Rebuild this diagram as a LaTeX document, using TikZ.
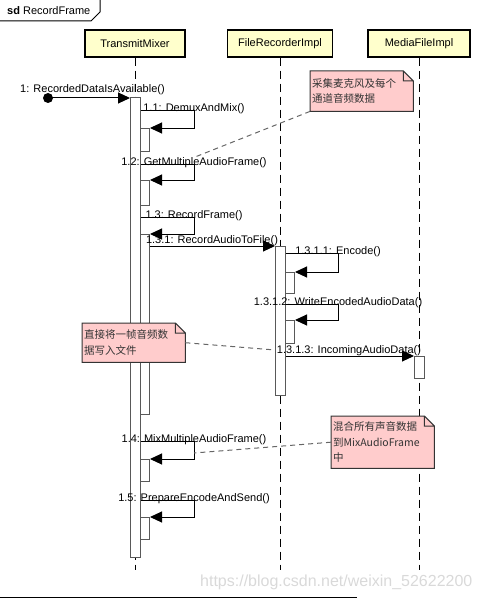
\documentclass[tikz,border=0pt]{standalone}
\usepackage{fontspec}
\setmainfont{Liberation Sans}
\newfontfamily\cjk{Noto Sans CJK SC}
\usetikzlibrary{arrows.meta}

\definecolor{kopfgelb}{HTML}{FFFFCC}
\definecolor{notizrot}{HTML}{FFCCCC}

\tikzset{
  beschr/.style={font=\fontsize{11}{13}\selectfont, inner sep=0pt},
  kopf/.style={draw=black, line width=1.3pt, fill=kopfgelb, minimum height=27pt, inner sep=0pt, font=\fontsize{11}{13}\selectfont},
  lebenslinie/.style={line width=1pt, dash pattern=on 8pt off 5pt},
  akt/.style={draw=black!65, fill=white, line width=1pt, minimum width=10pt, inner sep=0pt, anchor=north west},
  nachricht/.style={line width=1pt, -{Triangle[length=12pt,width=11pt]}},
  startpunkt/.style={circle, fill=black, minimum size=10pt, inner sep=0pt},
  notiz/.style={fill=notizrot, anchor=north west, inner xsep=2pt, inner ysep=2pt, text width=99pt, align=left, text=black!80, font=\cjk\fontsize{10.5}{15.5}\selectfont},
  notizrand/.style={draw=black!80, line width=1pt},
  anmerkung/.style={draw=black!60, line width=1pt, dash pattern=on 5pt off 4pt},
  rahmen/.style={line width=1pt},
  wasserzeichen/.style={font=\fontsize{16}{18}\selectfont, text=black!15, inner sep=0pt}
}

\begin{document}
\begin{tikzpicture}[x=1pt, y=-1pt]

\useasboundingbox (0,0) rectangle (481,599);

% x-Positionen der Lebenslinien
\def \xTM {135}
\def \xFR {280}
\def \xMF {419}
\def \yKopf {43.5}
\def \yEnde {570}
% Umkehrpunkte der Selbstaufrufe
\def \xUmkTM {194}
\def \xUmkFR {338}

% Rahmen
\node[beschr, anchor=west] (sd) at (7,11) {\textbf{sd} RecordFrame};
\draw[rahmen] (0,21) -- (91,21) -- (100,12) -- (100,0);
\draw[rahmen] (0,597) -- (357,597);

% Koepfe
\node[kopf, minimum width=100pt] (tm) at (\xTM,\yKopf) {TransmitMixer};
\node[kopf, minimum width=105pt] (fr) at (\xFR,\yKopf) {FileRecorderImpl};
\node[kopf, minimum width=102pt] (mf) at (\xMF,\yKopf) {MediaFileImpl};

% Lebenslinien
\coordinate (tmEnde) at (\xTM,\yEnde);
\coordinate (frEnde) at (\xFR,\yEnde);
\coordinate (mfEnde) at (\xMF,\yEnde);
\draw[lebenslinie] (tm) -- (tmEnde);
\draw[lebenslinie] (fr) -- (frEnde);
\draw[lebenslinie] (mf) -- (mfEnde);

% Aktivierungen
\node[akt, minimum height=460pt] (aTM) at (\xTM-5,97) {};
\node[akt, minimum height=149pt] (aFR) at (\xFR-5,246) {};
\node[akt, minimum height=22pt] (aMF) at (\xMF-5,356) {};

\node[akt, minimum width=9pt, minimum height=23pt] (s11) at (\xTM+5,128) {};
\node[akt, minimum width=9pt, minimum height=25pt] (s12) at (\xTM+5,180) {};
\node[akt, minimum width=9pt, minimum height=180pt] (s13) at (\xTM+5,234) {};
\node[akt, minimum width=9pt, minimum height=22pt] (s14) at (\xTM+5,459) {};
\node[akt, minimum width=9pt, minimum height=22pt] (s15) at (\xTM+5,517) {};
\node[akt, minimum width=9pt, minimum height=21pt] (s1311) at (\xFR+5,272) {};
\node[akt, minimum width=9pt, minimum height=23pt] (s1312) at (\xFR+5,320) {};

% 1: gefundene Nachricht
\node[startpunkt] (start) at (48,98) {};
\draw[nachricht] (start.center) -- (aTM.west |- start);
\node[beschr, anchor=base] (l1) at (92.5,93) {1: RecordedDataIsAvailable()};

% Selbstaufrufe TransmitMixer
\coordinate (u11) at (\xUmkTM,110.7);
\coordinate (u12) at (\xUmkTM,164);
\coordinate (u13) at (\xUmkTM,217);
\coordinate (u14) at (\xUmkTM,441);
\coordinate (u15) at (\xUmkTM,500);
\draw[nachricht] (aTM.east |- u11) -- (u11) |- (s11.north east);
\draw[nachricht] (aTM.east |- u12) -- (u12) |- (s12.north east);
\draw[nachricht] (aTM.east |- u13) -- (u13) |- (s13.north east);
\draw[nachricht] (aTM.east |- u14) -- (u14) |- (s14.north east);
\draw[nachricht] (aTM.east |- u15) -- (u15) |- (s15.north east);
\node[beschr, anchor=base] (l11) at ([yshift=-1pt]u11) {1.1: DemuxAndMix()};
\node[beschr, anchor=base] (l12) at ([yshift=-1pt]u12) {1.2: GetMultipleAudioFrame()};
\node[beschr, anchor=base] (l13) at ([yshift=-1pt]u13) {1.3: RecordFrame()};
\node[beschr, anchor=base] (l14) at ([yshift=-1pt]u14) {1.4: MixMultipleAudioFrame()};
\node[beschr, anchor=base] (l15) at ([yshift=-1pt]u15) {1.5: PrepareEncodeAndSend()};

% 1.3.1 an FileRecorderImpl
\draw[nachricht] (s13.east |- aFR.north) -- (aFR.north west);
\node[beschr, anchor=base] (l131) at (212,243) {1.3.1: RecordAudioToFile()};

% Selbstaufrufe FileRecorderImpl
\coordinate (u1311) at (\xUmkFR,253);
\coordinate (u1312) at (\xUmkFR,304);
\draw[nachricht] (aFR.east |- u1311) -- (u1311) |- (s1311.north east);
\draw[nachricht] (aFR.east |- u1312) -- (u1312) |- (s1312.north east);
\node[beschr, anchor=base] (l1311) at ([yshift=-1pt]u1311) {1.3.1.1: Encode()};
\node[beschr, anchor=base] (l1312) at ([yshift=-1pt]u1312) {1.3.1.2: WriteEncodedAudioData()};

% 1.3.1.3 an MediaFileImpl
\draw[nachricht] (aFR.east |- aMF.north) -- (aMF.north west);
\node[beschr, anchor=base] (l1313) at (349,353) {1.3.1.3: IncomingAudioData()};

% Notizen
\node[notiz, minimum height=40pt] (n1) at (310,71) {采集麦克风及每个\\通道音频数据};
\node[notiz, minimum height=39pt] (n2) at (82,323) {直接将一帧音频数\\据写入文件};
\node[notiz, minimum height=52pt] (n3) at (331,416) {混合所有声音数据\\到MixAudioFrame\\中};
\foreach \n in {n1,n2,n3} {
  \fill[white] ([xshift=-10pt]\n.north east) -- (\n.north east) -- ([yshift=-10pt]\n.north east) -- cycle;
  \draw[notizrand] (\n.north west) -- ([xshift=-10pt]\n.north east) -- ([yshift=-10pt]\n.north east)
    -- (\n.south east) -- (\n.south west) -- cycle
    ([xshift=-10pt]\n.north east) |- ([yshift=-10pt]\n.north east);
}

% Verbindungen der Notizen
\coordinate (z1) at (195,157);
\coordinate (z2) at (275,350);
\coordinate (z3) at (194,453);
\draw[anmerkung] (n1.south west) -- (z1);
\draw[anmerkung] (n2.east) -- (z2);
\draw[anmerkung] (n3.west) -- (z3);

% Wasserzeichen
\node[wasserzeichen, anchor=base west] (wz) at (200,586) {https://blog.csdn.net/weixin\_52622200};

\end{tikzpicture}
\end{document}
